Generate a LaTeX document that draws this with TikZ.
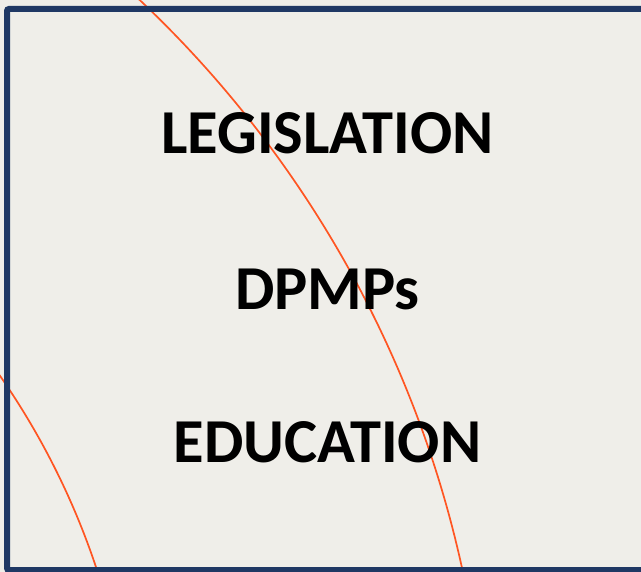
\documentclass[tikz,border=0pt]{standalone}
\usepackage{fontspec}
\setmainfont{Carlito}
\definecolor{bg}{RGB}{239,238,233}
\definecolor{navy}{RGB}{31,56,100}
\definecolor{arcred}{RGB}{255,85,34}
\tikzset{
  label/.style={anchor=base, inner sep=0pt, font=\fontsize{62.5}{62.5}\selectfont\bfseries, text=black},
  arcline/.style={draw=arcred, line width=1.7pt},
  frame/.style={draw=navy, line width=6pt, rounded corners=2pt}
}
\begin{document}
\begin{tikzpicture}[x=1pt,y=-1pt]
\useasboundingbox (0,0) rectangle (641,572);
\fill[bg] (0,0) rectangle (641,572);
\begin{scope}
\clip (0,0) rectangle (641,572);
\coordinate (c) at (-621.2,806.8);
\draw[arcline] (c) circle[radius=1109];
\draw[arcline] (c) circle[radius=756];
\draw[frame] (7,9) rectangle (680,570);
\end{scope}
\node[label] (leg) at (327.5,154) {LEGISLATION};
\node[label] (dpm) at (327.5,310) {DPMPs};
\node[label] (edu) at (327.5,463) {EDUCATION};
\end{tikzpicture}
\end{document}
